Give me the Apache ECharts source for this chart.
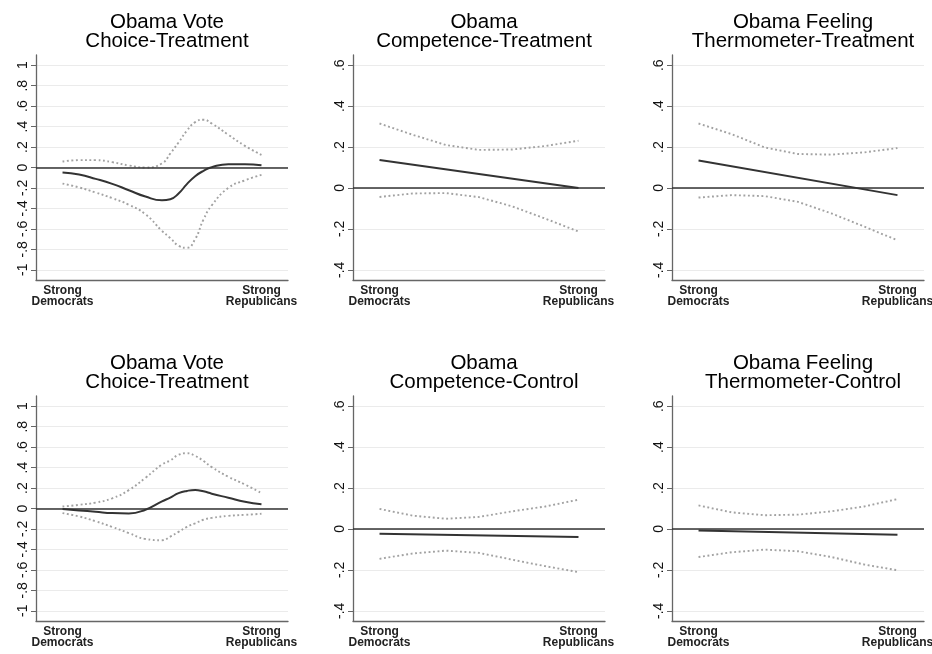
<!DOCTYPE html>
<html>
<head>
<meta charset="utf-8">
<script src="https://cdn.jsdelivr.net/npm/echarts@6/dist/echarts.min.js"></script>
<style>
html,body{margin:0;padding:0;background:#fff;}
#c{width:932px;height:654px;}
</style>
</head>
<body>
<div id="c"></div>
<script>
// ---------- data ----------
const titles = [
  "Obama Vote\nChoice-Treatment",
  "Obama\nCompetence-Treatment",
  "Obama Feeling\nThermometer-Treatment",
  "Obama Vote\nChoice-Treatment",
  "Obama\nCompetence-Control",
  "Obama Feeling\nThermometer-Control"
];
const xTickValues = [1, 7];
const xTickLabels = ["Strong\nDemocrats", "Strong\nRepublicans"];
const yTicksWide = [-1, -0.8, -0.6, -0.4, -0.2, 0, 0.2, 0.4, 0.6, 0.8, 1];
const yTicksNarrow = [-0.4, -0.2, 0, 0.2, 0.4, 0.6];

// x positions for the curved panels (party ID scale)
const xsCurve = [1, 1.5, 2, 2.5, 3, 3.5, 4, 4.25, 4.5, 4.75, 5, 5.25, 5.5, 6, 6.5, 7];
const xsInt = [1, 2, 3, 4, 5, 6, 7];
const xsEnds = [1, 7];

// Panel 1: Vote Choice - Treatment (top)
const p1Est   = [-0.049, -0.069, -0.111, -0.16, -0.222, -0.284, -0.32, -0.31, -0.254, -0.163, -0.085, -0.033, 0.003, 0.033, 0.033, 0.023];
const p1Upper = [0.059, 0.072, 0.072, 0.052, 0.02, 0.0, 0.04, 0.137, 0.245, 0.36, 0.444, 0.467, 0.43, 0.32, 0.212, 0.124];
const p1Lower = [-0.157, -0.195, -0.245, -0.30, -0.365, -0.457, -0.62, -0.69, -0.765, -0.785, -0.70, -0.51, -0.37, -0.2, -0.125, -0.072];

// Panel 2: Competence - Treatment
const p2Est   = [0.137, 0.0];
const p2Upper = [0.315, 0.26, 0.21, 0.186, 0.188, 0.205, 0.231];
const p2Lower = [-0.044, -0.027, -0.025, -0.045, -0.09, -0.15, -0.213];

// Panel 3: Feeling Thermometer - Treatment
const p3Est   = [0.134, -0.035];
const p3Upper = [0.315, 0.263, 0.198, 0.166, 0.163, 0.174, 0.195];
const p3Lower = [-0.047, -0.035, -0.04, -0.068, -0.124, -0.189, -0.256];

// Panel 4: Vote Choice - Treatment (bottom)
const p4Est   = [-0.006, -0.019, -0.032, -0.045, -0.049, -0.012, 0.07, 0.107, 0.15, 0.172, 0.181, 0.168, 0.145, 0.105, 0.065, 0.042];
const p4Upper = [0.019, 0.036, 0.058, 0.10, 0.18, 0.30, 0.43, 0.47, 0.525, 0.54, 0.515, 0.465, 0.405, 0.31, 0.235, 0.15];
const p4Lower = [-0.045, -0.078, -0.125, -0.18, -0.24, -0.298, -0.31, -0.275, -0.228, -0.18, -0.145, -0.11, -0.092, -0.072, -0.062, -0.052];

// Panel 5: Competence - Control
const p5Est   = [-0.024, -0.039];
const p5Upper = [0.098, 0.065, 0.05, 0.059, 0.086, 0.11, 0.143];
const p5Lower = [-0.146, -0.12, -0.106, -0.117, -0.15, -0.182, -0.211];

// Panel 6: Feeling Thermometer - Control
const p6Est   = [-0.007, -0.028];
const p6Upper = [0.115, 0.081, 0.067, 0.07, 0.086, 0.11, 0.146];
const p6Lower = [-0.137, -0.114, -0.101, -0.109, -0.137, -0.174, -0.202];

// ---------- layout / build ----------
const panels = [
  {est: p1Est, estX: xsCurve, up: p1Upper, lo: p1Lower, bx: xsCurve, ticks: yTicksWide, min: -1.1, max: 1.1, smooth: true},
  {est: p2Est, estX: xsEnds, up: p2Upper, lo: p2Lower, bx: xsInt, ticks: yTicksNarrow, min: -0.45, max: 0.65, smooth: false},
  {est: p3Est, estX: xsEnds, up: p3Upper, lo: p3Lower, bx: xsInt, ticks: yTicksNarrow, min: -0.45, max: 0.65, smooth: false},
  {est: p4Est, estX: xsCurve, up: p4Upper, lo: p4Lower, bx: xsCurve, ticks: yTicksWide, min: -1.1, max: 1.1, smooth: true},
  {est: p5Est, estX: xsEnds, up: p5Upper, lo: p5Lower, bx: xsInt, ticks: yTicksNarrow, min: -0.45, max: 0.65, smooth: false},
  {est: p6Est, estX: xsEnds, up: p6Upper, lo: p6Lower, bx: xsInt, ticks: yTicksNarrow, min: -0.45, max: 0.65, smooth: false}
];
const colLeft = [36, 353, 672];
const rowTop = [55, 396];
const gw = 252, gh = 225;
const FONT = '"Liberation Sans", Arial, Helvetica, sans-serif';

function fmtTick(v) {
  const r = Math.round(v * 10) / 10;
  if (r === 0) return "0";
  return String(r).replace("0.", ".");
}
const pair = (xs, ys) => xs.map((x, i) => [x, ys[i]]);

const grid = [], xAxis = [], yAxis = [], series = [], title = [];
panels.forEach((p, i) => {
  const c = i % 3, r = Math.floor(i / 3);
  grid.push({left: colLeft[c], top: rowTop[r], width: gw, height: gh, containLabel: false, outerBoundsMode: 'none'});
  title.push({
    text: titles[i], left: colLeft[c] + gw / 2, top: r === 0 ? 8 : 349, textAlign: 'center',
    textStyle: {fontFamily: FONT, fontSize: 20.5, fontWeight: 'normal', color: '#000', lineHeight: 19}
  });
  xAxis.push({
    type: 'value', gridIndex: i, min: 0.2, max: 7.8, position: 'bottom',
    axisLine: {show: true, onZero: false, lineStyle: {color: '#666', width: 1.3}},
    axisTick: {show: false},
    splitLine: {show: false},
    axisLabel: {
      customValues: xTickValues, margin: 5, fontFamily: FONT, fontSize: 12, fontWeight: 'bold',
      color: '#222', lineHeight: 11,
      formatter: v => xTickLabels[xTickValues.indexOf(Math.round(v))] || ''
    }
  });
  yAxis.push({
    type: 'value', gridIndex: i, min: p.min, max: p.max, position: 'left',
    axisLine: {show: true, onZero: false, lineStyle: {color: '#666', width: 1.3}},
    axisTick: {show: true, customValues: p.ticks, length: 5, lineStyle: {color: '#666', width: 1}},
    splitLine: {show: true, lineStyle: {color: '#ebebeb', width: 1}},
    axisLabel: {
      customValues: p.ticks, rotate: 90, margin: 6, fontFamily: FONT, fontSize: 14, color: '#111',
      hideOverlap: false, formatter: fmtTick
    }
  });
  series.push({
    type: 'line', xAxisIndex: i, yAxisIndex: i, data: pair(p.bx, p.up), smooth: p.smooth,
    symbol: 'none', silent: true, z: 3,
    lineStyle: {color: '#a2a2a2', width: 1.9, type: [1.9, 2.6]}
  });
  series.push({
    type: 'line', xAxisIndex: i, yAxisIndex: i, data: pair(p.bx, p.lo), smooth: p.smooth,
    symbol: 'none', silent: true, z: 3,
    lineStyle: {color: '#a2a2a2', width: 1.9, type: [1.9, 2.6]}
  });
  series.push({
    type: 'line', xAxisIndex: i, yAxisIndex: i, data: pair(p.estX, p.est), smooth: p.smooth,
    symbol: 'none', silent: true, z: 4,
    lineStyle: {color: '#333', width: 2},
    markLine: {
      silent: true, symbol: ['none', 'none'], label: {show: false}, animation: false,
      lineStyle: {color: '#333', width: 1.7, type: 'solid'},
      emphasis: {disabled: true},
      data: [{yAxis: 0}]
    }
  });
});

const chart = echarts.init(document.getElementById('c'), null, {renderer: 'canvas'});
chart.setOption({
  animation: false,
  backgroundColor: '#fff',
  title, grid, xAxis, yAxis, series
});
</script>
</body>
</html>
